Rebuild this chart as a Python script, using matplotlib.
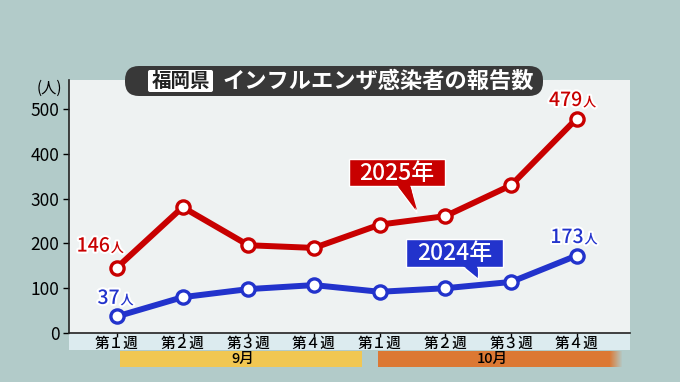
import numpy as np
import matplotlib.pyplot as plt
from matplotlib.patches import FancyBboxPatch, Rectangle, Polygon
import matplotlib.patheffects as pe

plt.rcParams['font.family'] = ['Noto Sans CJK JP', 'DejaVu Sans']

# data
weeks = ['第１週', '第２週', '第３週', '第４週', '第１週', '第２週', '第３週', '第４週']
y2025 = [146, 281, 196, 190, 242, 261, 330, 479]
y2024 = [37, 80, 98, 107, 92, 100, 114, 173]
months = ['9月', '10月']
red = '#c80000'
blue = '#2233cc'
bg = '#b2cbc9'

fig = plt.figure(figsize=(6.8, 3.82), dpi=100)
fig.patch.set_facecolor(bg)

# pixel-coordinate overlays (below and above the chart)
under = fig.add_axes([0, 0, 1, 1], zorder=0)
over = fig.add_axes([0, 0, 1, 1], zorder=5)
for a in (under, over):
    a.set_xlim(0, 680)
    a.set_ylim(382, 0)
    a.axis('off')
    a.patch.set_alpha(0)

ax = fig.add_axes([69/680, 1-333/382, (630-69)/680, (333-80)/382], zorder=2)
ax.set_facecolor('#eef2f2')

x = np.arange(len(weeks))
halo = [pe.withStroke(linewidth=3, foreground='white')]

ax.plot(x, y2024, color=blue, lw=4.3, marker='o', ms=9.5, mfc='white',
        mec=blue, mew=2.4, zorder=3)
ax.plot(x, y2025, color=red, lw=4.3, marker='o', ms=9.5, mfc='white',
        mec=red, mew=2.4, zorder=3)

ax.set_xlim(-0.73, 7.81)
ax.set_ylim(0, 565)
ax.set_yticks([0, 100, 200, 300, 400, 500])
ax.tick_params(axis='y', labelsize=12.5, length=4, width=1, pad=3)
ax.set_xticks(x)
ax.set_xticklabels(weeks, fontsize=10.5, fontweight='medium')
ax.tick_params(axis='x', length=3, width=1, pad=0)
for s in ['top', 'right']:
    ax.spines[s].set_visible(False)
for s in ['left', 'bottom']:
    ax.spines[s].set_linewidth(1.2)
    ax.spines[s].set_color('#222222')
over.text(49, 88, '(人)', fontsize=11, ha='center', va='center')

# tick label band and month bars
under.add_patch(Rectangle((69, 333), 561, 17, facecolor='#dcebef', edgecolor='none'))
under.add_patch(Rectangle((120, 351), 242, 16, facecolor='#f1c752', edgecolor='none'))
under.add_patch(Rectangle((378, 351), 232, 16, facecolor='#dc7833', edgecolor='none'))
for k in range(12):
    under.add_patch(Rectangle((610 + k, 351), 1, 16, facecolor='#dc7833',
                              edgecolor='none', alpha=1 - (k + 1) / 13))
under.text(243, 359, months[0], ha='center', va='center', fontsize=10.5,
           fontweight='medium')
under.text(492, 359, months[1], ha='center', va='center', fontsize=10.5,
           fontweight='medium')

# value labels
def vlabel(i, v, color, dx, dy):
    ax.annotate(str(v), (i, v), xytext=(dx, dy), textcoords='offset points',
                ha='right', va='center', fontsize=14, fontweight='medium',
                color=color, path_effects=halo, zorder=5)
    ax.annotate('人', (i, v), xytext=(dx + 0.5, dy - 1.5), textcoords='offset points',
                ha='left', va='center', fontsize=9.5, fontweight='medium',
                color=color, path_effects=halo, zorder=5)

vlabel(0, y2025[0], red, -5, 15.5)
vlabel(0, y2024[0], blue, 2, 13)
vlabel(7, y2025[-1], red, 4, 13)
vlabel(7, y2024[-1], blue, 5, 13)

# series callouts
def callout(x0, y0, w, h, tip, base, text, color):
    over.add_patch(Polygon([(base[0], y0 + h - 1), (base[1], y0 + h - 1), tip],
                           closed=True, facecolor=color, edgecolor='white', lw=1))
    over.add_patch(Rectangle((x0, y0), w, h, facecolor=color, edgecolor='white', lw=1))
    over.add_patch(Polygon([(base[0] + 1, y0 + h - 1), (base[1] - 1, y0 + h - 1),
                            (tip[0], tip[1] - 3)], closed=True, facecolor=color,
                           edgecolor='none'))
    over.text(x0 + w / 2, y0 + h / 2 + 1, text, ha='center', va='center',
              fontsize=16.5, fontweight='medium', color='white')

callout(349, 159, 96, 27, (417, 213), (396, 411), '2025年', red)
callout(406, 239, 97, 28, (478, 279), (462, 478), '2024年', blue)

# title
over.add_patch(FancyBboxPatch((125, 66), 418, 30, boxstyle='round,pad=0,rounding_size=14',
                              facecolor='#383838', edgecolor='none'))
over.add_patch(FancyBboxPatch((148, 70), 65, 22, boxstyle='round,pad=0,rounding_size=2',
                              facecolor='white', edgecolor='none'))
over.text(180.5, 81, '福岡県', ha='center', va='center', fontsize=14,
          fontweight='bold', color='#222222')
over.text(378, 81, 'インフルエンザ感染者の報告数', ha='center', va='center',
          fontsize=16, fontweight='bold', color='white')

fig.savefig('out.png', dpi=100, facecolor=bg)
